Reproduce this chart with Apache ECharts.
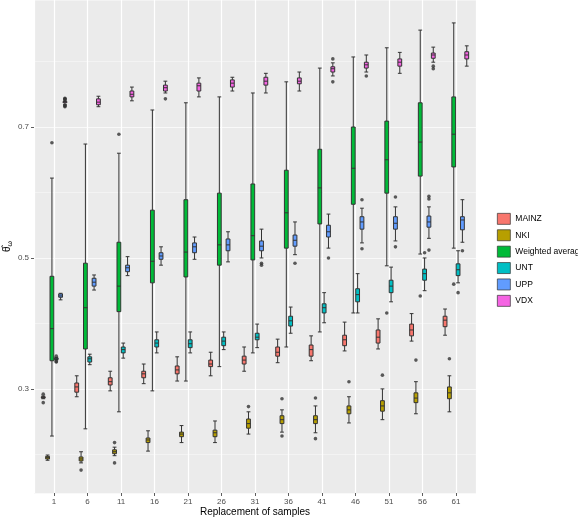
<!DOCTYPE html>
<html>
<head>
<meta charset="utf-8">
<script src="https://cdn.jsdelivr.net/npm/echarts@6/dist/echarts.min.js"></script>
<style>
html,body{margin:0;padding:0;background:#fff;}
#main{width:578px;height:517px;}
</style>
</head>
<body>
<div id="main"></div>
<script>
var categories = ['1','6','11','16','21','26','31','36','41','46','51','56','61'];
var yTicks = [0.3, 0.5, 0.7];
var names = ['MAINZ','NKI','Weighted average','UNT','UPP','VDX'];
var colors = ['#F8766D','#B79F00','#00BA38','#00BFC4','#619CFF','#F564E3'];

// [lower whisker, Q1, median, Q3, upper whisker]
var mainz = [
  [0.285,0.286,0.287,0.288,0.289],[0.288,0.295,0.303,0.309,0.320],[0.297,0.306,0.311,0.317,0.327],
  [0.308,0.317,0.323,0.327,0.338],[0.312,0.323,0.329,0.335,0.349],[0.320,0.334,0.338,0.344,0.356],
  [0.327,0.338,0.344,0.350,0.364],[0.340,0.350,0.356,0.364,0.376],[0.343,0.350,0.360,0.367,0.381],
  [0.358,0.366,0.375,0.382,0.402],[0.361,0.370,0.379,0.390,0.407],[0.373,0.381,0.390,0.399,0.415],
  [0.382,0.395,0.405,0.411,0.422]
];
var nki = [
  [0.191,0.193,0.195,0.197,0.199],[0.187,0.190,0.193,0.196,0.204],[0.198,0.201,0.204,0.207,0.211],
  [0.205,0.218,0.222,0.225,0.236],[0.218,0.227,0.231,0.234,0.244],[0.218,0.227,0.233,0.237,0.251],
  [0.231,0.240,0.247,0.254,0.265],[0.234,0.247,0.253,0.259,0.268],[0.233,0.247,0.253,0.259,0.274],
  [0.248,0.262,0.268,0.274,0.288],[0.253,0.266,0.274,0.282,0.300],[0.262,0.279,0.286,0.294,0.311],
  [0.265,0.285,0.294,0.303,0.320]
];
var weighted = [
  [0.228,0.343,0.392,0.472,0.622],[0.239,0.361,0.424,0.492,0.674],[0.265,0.418,0.457,0.524,0.660],
  [0.297,0.462,0.495,0.573,0.726],[0.312,0.471,0.509,0.589,0.737],[0.334,0.489,0.520,0.599,0.746],
  [0.355,0.497,0.534,0.613,0.752],[0.364,0.515,0.569,0.634,0.769],[0.387,0.552,0.607,0.666,0.790],
  [0.416,0.582,0.637,0.700,0.807],[0.488,0.599,0.650,0.709,0.821],[0.506,0.625,0.677,0.737,0.848],
  [0.515,0.639,0.689,0.746,0.859]
];
var unt = [
  [0.344,0.345,0.346,0.347,0.348],[0.337,0.341,0.346,0.349,0.353],[0.347,0.355,0.360,0.364,0.370],
  [0.355,0.364,0.370,0.375,0.387],[0.355,0.363,0.369,0.375,0.387],[0.360,0.366,0.373,0.379,0.387],
  [0.363,0.375,0.379,0.385,0.399],[0.385,0.396,0.404,0.411,0.425],[0.401,0.416,0.424,0.430,0.447],
  [0.416,0.433,0.444,0.453,0.476],[0.433,0.447,0.457,0.466,0.486],[0.450,0.466,0.476,0.483,0.500],
  [0.462,0.473,0.482,0.491,0.511]
];
var upp = [
  [0.436,0.440,0.442,0.445,0.446],[0.451,0.457,0.463,0.469,0.474],[0.473,0.479,0.485,0.489,0.502],
  [0.489,0.498,0.503,0.508,0.517],[0.498,0.508,0.517,0.523,0.532],[0.494,0.511,0.520,0.529,0.540],
  [0.500,0.511,0.518,0.526,0.544],[0.505,0.518,0.527,0.535,0.555],[0.515,0.532,0.540,0.550,0.567],
  [0.523,0.544,0.555,0.563,0.576],[0.526,0.544,0.553,0.563,0.578],[0.530,0.547,0.555,0.564,0.578],
  [0.524,0.543,0.558,0.563,0.589]
];
var vdx = [
  [0.734,0.737,0.738,0.739,0.741],[0.731,0.734,0.738,0.743,0.747],[0.740,0.746,0.750,0.755,0.761],
  [0.752,0.755,0.760,0.764,0.770],[0.746,0.755,0.763,0.767,0.775],[0.755,0.761,0.767,0.772,0.776],
  [0.752,0.764,0.770,0.776,0.782],[0.755,0.766,0.770,0.775,0.784],[0.778,0.784,0.789,0.792,0.798],
  [0.784,0.790,0.795,0.799,0.810],[0.782,0.793,0.799,0.804,0.814],[0.799,0.805,0.810,0.813,0.822],
  [0.793,0.804,0.810,0.815,0.824]
];

// outliers: [category index, value]
var mainzOut = [[0,0.292],[0,0.279]];
var nkiOut = [[1,0.176],[2,0.218],[2,0.187],[6,0.273],[7,0.285],[7,0.228],[8,0.286],[8,0.224],
  [9,0.311],[10,0.321],[11,0.344],[12,0.346]];
var weightedOut = [[0,0.676],[2,0.689],[10,0.416],[11,0.442],[12,0.460]];
var untOut = [[0,0.350],[0,0.342],[0,0.341],[11,0.508],[12,0.447]];
var uppOut = [[6,0.492],[6,0.489],[7,0.492],[8,0.500],[9,0.589],[9,0.514],[10,0.593],[10,0.517],
  [11,0.594],[11,0.590],[11,0.512],[12,0.511]];
var vdxOut = [[0,0.744],[0,0.743],[0,0.742],[0,0.733],[0,0.732],[0,0.731],[3,0.743],[8,0.804],
  [8,0.769],[9,0.778],[11,0.793],[11,0.789]];

var boxes = [mainz, nki, weighted, unt, upp, vdx];
var outs = [mainzOut, nkiOut, weightedOut, untOut, uppOut, vdxOut];

var font = 'Liberation Sans, Arial, sans-serif';
var yMin = 0.141, yMax = 0.894;
var panelL = 34, panelR = 476, panelT = 0, panelB = 493;
var pad = 0.6; // ggplot discrete expansion
var unit = (panelR - panelL) / (categories.length - 1 + 2 * pad);
var innerL = panelL + (pad - 0.5) * unit;
var innerR = panelR - (pad - 0.5) * unit;

// same dodge as echarts boxplot layout, so outliers line up with boxes
var avail = unit * 0.8 - 2;
var gap = avail / names.length * 0.3;
var bw = (avail - gap * (names.length - 1)) / names.length;
function dodge(i) { return bw / 2 - avail / 2 + i * (gap + bw); }

var series = [];
names.forEach(function (n, i) {
  series.push({
    name: n, type: 'boxplot', xAxisIndex: 1, yAxisIndex: 1,
    data: boxes[i], boxWidth: [3.8, 3.8],
    itemStyle: {color: colors[i], borderColor: '#333333', borderWidth: 1},
    emphasis: {disabled: true}
  });
});
names.forEach(function (n, i) {
  series.push({
    name: n + ' outliers', type: 'scatter', xAxisIndex: 1, yAxisIndex: 1,
    data: outs[i], symbolSize: 3.6, symbolOffset: [dodge(i), 0],
    itemStyle: {color: '#333333'}, z: 3
  });
});

var legendData = names.map(function (n, i) {
  return {name: n, itemStyle: {color: colors[i], borderColor: '#333333', borderWidth: 0.7}};
});

var myChart = echarts.init(document.getElementById('main'));
myChart.setOption({
  animation: false,
  backgroundColor: '#ffffff',
  grid: [
    {left: panelL, top: panelT, width: panelR - panelL, height: panelB - panelT,
     show: true, backgroundColor: '#ebebeb', borderWidth: 0, outerBoundsMode: 'none', containLabel: false},
    {left: innerL, top: panelT, width: innerR - innerL, height: panelB - panelT,
     outerBoundsMode: 'none', containLabel: false}
  ],
  xAxis: [
    {gridIndex: 0, type: 'value', min: 0.4, max: 13.6, splitNumber: 13,
     axisLine: {show: false}, axisTick: {show: false}, axisLabel: {show: false},
     splitLine: {lineStyle: {color: '#ffffff', width: 1.2}},
     name: 'Replacement of samples', nameLocation: 'middle', nameGap: 14, nameMoveOverlap: false,
     nameTextStyle: {fontSize: 10, color: '#000', fontFamily: font}},
    {gridIndex: 1, type: 'category', data: categories, boundaryGap: true,
     axisLine: {show: false},
     axisTick: {show: true, alignWithLabel: true, length: 3, lineStyle: {color: '#333', width: 0.8}},
     axisLabel: {fontSize: 8, color: '#4d4d4d', margin: 5, fontFamily: font},
     splitLine: {show: false}}
  ],
  yAxis: [
    {gridIndex: 0, type: 'value', min: yMin, max: yMax, splitNumber: 7,
     axisLine: {show: false},
     axisTick: {show: true, customValues: yTicks, length: 3, lineStyle: {color: '#333', width: 0.8}},
     axisLabel: {customValues: yTicks, fontSize: 8, color: '#4d4d4d', margin: 5, fontFamily: font,
       formatter: function (v) { return v.toFixed(1); }},
     splitLine: {lineStyle: {color: '#ffffff', width: 1.2}},
     name: '{t|θ̂}{s|ω}', nameLocation: 'middle', nameGap: 20, nameRotate: 90, nameMoveOverlap: false,
     nameTextStyle: {fontFamily: font, color: '#000',
       rich: {t: {fontSize: 10, fontFamily: font}, s: {fontSize: 7, fontFamily: font, padding: [6, 0, 0, 0]}}}},
    {gridIndex: 1, type: 'value', min: yMin, max: yMax, show: false, splitLine: {show: false}},
    // minor grid lines every 0.1
    {gridIndex: 0, type: 'value', position: 'right', min: yMin, max: yMax, splitNumber: 7,
     axisLine: {show: false}, axisTick: {show: false}, axisLabel: {show: false},
     splitLine: {lineStyle: {color: '#f7f7f7', width: 0.7}}}
  ],
  legend: {
    orient: 'vertical', left: 492, top: 208, itemWidth: 13, itemHeight: 11, itemGap: 4.7,
    icon: 'rect', data: legendData,
    textStyle: {fontSize: 8.5, color: '#000', fontFamily: font}
  },
  series: series
});
</script>
</body>
</html>
